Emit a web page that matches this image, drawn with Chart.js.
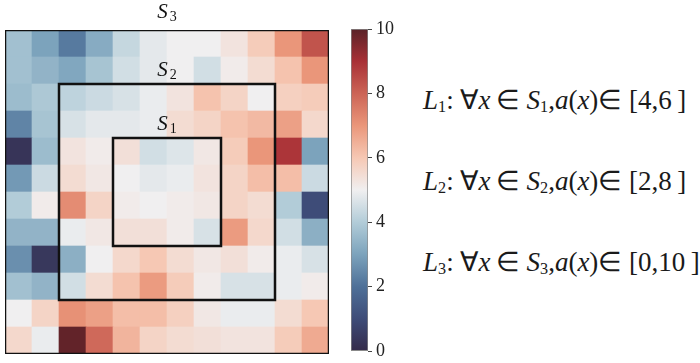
<!DOCTYPE html>
<html>
<head>
<meta charset="utf-8">
<script src="https://cdn.jsdelivr.net/npm/chart.js@4/dist/chart.umd.min.js"></script>
<style>
  html, body { margin: 0; padding: 0; background: #fff; overflow: hidden; }
  #page { position: relative; width: 700px; height: 363px; overflow: hidden; }
  #heatBox { position: absolute; left: 0; top: 0; width: 345px; height: 363px; }
  #barBox { position: absolute; left: 340px; top: 0; width: 70px; height: 366px; }
  .rule {
    position: absolute; left: 423px; white-space: nowrap;
    font-family: "Liberation Serif", serif; font-size: 27px;
    line-height: 1; color: #1a1a1a;
  }
  .rule i { font-style: italic; }
  .rule sub { font-size: 0.6em; vertical-align: baseline; position: relative; top: 0.2em; }
</style>
</head>
<body>
<div id="page">
  <div id="heatBox"><canvas id="heat"></canvas></div>
  <div id="barBox"><canvas id="cbar"></canvas></div>
  <div id="rules"></div>
</div>
<script>
// cell values, row 0 is the top row
const cellValues = [
  [3.7, 3.0, 2.2, 3.2, 4.3, 4.8, 5.0, 5.0, 5.3, 5.9, 7.0, 8.3],
  [3.7, 3.4, 3.1, 3.8, 4.5, 4.8, 5.0, 4.5, 5.1, 5.5, 6.1, 7.0],
  [3.6, 3.9, 4.2, 4.4, 4.6, 4.9, 5.3, 6.1, 5.7, 5.0, 5.8, 5.9],
  [2.4, 3.8, 4.6, 4.8, 4.8, 4.9, 5.5, 5.7, 6.1, 6.3, 6.8, 5.6],
  [0.3, 3.6, 5.3, 5.1, 5.4, 4.5, 4.7, 5.2, 5.9, 7.0, 8.9, 3.0],
  [2.8, 4.4, 5.5, 5.2, 5.0, 4.8, 4.9, 5.3, 5.7, 6.2, 6.2, 4.4],
  [4.0, 5.1, 7.2, 5.7, 5.1, 5.0, 5.1, 5.2, 5.7, 5.5, 4.0, 1.0],
  [3.4, 3.4, 4.9, 5.2, 5.4, 5.4, 5.1, 4.6, 6.9, 5.6, 4.5, 3.3],
  [2.6, 0.4, 3.3, 5.0, 5.6, 6.0, 5.5, 5.2, 5.4, 5.1, 4.9, 4.6],
  [3.7, 3.4, 4.5, 5.5, 6.1, 6.9, 5.9, 5.1, 4.6, 4.6, 4.9, 5.1],
  [5.0, 5.7, 7.1, 6.8, 6.2, 6.2, 5.8, 5.2, 4.9, 4.9, 5.5, 6.0],
  [5.6, 4.9, 9.9, 7.9, 6.4, 5.7, 5.5, 5.4, 5.3, 5.3, 5.9, 6.6]
];
const gridSize = 12;

// nested regions (cell index bounds) and the allowed value range in each
const regionNames = ['1', '2', '3'];
const regionLo = [4, 2, 0];
const regionHi = [8, 10, 12];
const regionRanges = [[4, 6], [2, 8], [0, 10]];

const colorTicks = [0, 2, 4, 6, 8, 10];
const valueMin = 0, valueMax = 10;

// diverging colormap, one stop per unit from 0 to 10
const cmapStops = [
  [52, 42, 74], [62, 76, 120], [78, 112, 152], [124, 163, 188], [178, 204, 216],
  [240, 239, 240], [246, 200, 180], [234, 150, 122], [204, 100, 86], [168, 48, 54], [90, 34, 40]
];

function cmap(v) {
  const t = Math.max(0, Math.min(1, (v - valueMin) / (valueMax - valueMin))) * (cmapStops.length - 1);
  const i = Math.min(Math.floor(t), cmapStops.length - 2);
  const f = t - i;
  const a = cmapStops[i], b = cmapStops[i + 1];
  const c = a.map((x, k) => Math.round(x + (b[k] - x) * f));
  return 'rgb(' + c.join(',') + ')';
}

const serif = '"Liberation Serif", serif';
Chart.defaults.font.family = serif;

// one floating bar per cell
const cells = [];
const cellColors = [];
cellValues.forEach((row, r) => {
  row.forEach((v, c) => {
    cells.push({ x: c + 0.5, y: [r, r + 1] });
    cellColors.push(cmap(v));
  });
});

function boxPoints(lo, hi) {
  return [{ x: lo, y: lo }, { x: hi, y: lo }, { x: hi, y: hi }, { x: lo, y: hi }, { x: lo, y: lo }];
}

const frameSets = regionLo.map((lo, i) => ({
  type: 'line',
  order: 0,
  data: boxPoints(lo, regionHi[i]),
  borderColor: '#111',
  borderWidth: 2.5,
  borderCapStyle: 'square',
  borderJoinStyle: 'miter',
  pointRadius: 0,
  fill: false,
  tension: 0
}));

// region names S_i above each frame
const regionLabels = {
  id: 'regionLabels',
  afterDatasetsDraw(chart) {
    const ctx = chart.ctx;
    const xs = chart.scales.x, ys = chart.scales.y;
    const cx = xs.getPixelForValue(gridSize / 2);
    ctx.save();
    ctx.fillStyle = '#111';
    ctx.textBaseline = 'alphabetic';
    regionNames.forEach((name, i) => {
      const base = ys.getPixelForValue(regionLo[i]) - (regionLo[i] === 0 ? 12 : 8);
      ctx.font = 'italic 21px ' + serif;
      const w1 = ctx.measureText('S').width;
      ctx.font = '14px ' + serif;
      const w2 = ctx.measureText(name).width;
      const left = cx - (w1 + 2 + w2) / 2;
      ctx.font = 'italic 21px ' + serif;
      ctx.fillText('S', left, base);
      ctx.font = '14px ' + serif;
      ctx.fillText(name, left + w1 + 2, base + 3);
    });
    ctx.restore();
  }
};

new Chart(document.getElementById('heat'), {
  type: 'bar',
  data: {
    datasets: [{
      order: 1,
      data: cells,
      backgroundColor: cellColors,
      borderWidth: 0,
      barPercentage: 1,
      categoryPercentage: 1
    }].concat(frameSets)
  },
  options: {
    responsive: true,
    maintainAspectRatio: false,
    animation: false,
    layout: { padding: { left: 5, right: 16, top: 30, bottom: 9 } },
    plugins: { legend: { display: false }, tooltip: { enabled: false } },
    scales: {
      x: { type: 'linear', min: 0, max: gridSize, offset: false, display: false, ticks: { stepSize: 1 } },
      y: { type: 'linear', min: 0, max: gridSize, reverse: true, display: false, ticks: { stepSize: 1 } }
    }
  },
  plugins: [regionLabels]
});

// colorbar
new Chart(document.getElementById('cbar'), {
  type: 'bar',
  data: {
    labels: [''],
    datasets: [{
      data: [[valueMin, valueMax]],
      backgroundColor(context) {
        const area = context.chart.chartArea;
        if (!area) return null;
        const g = context.chart.ctx.createLinearGradient(0, area.bottom, 0, area.top);
        cmapStops.forEach((s, i) => g.addColorStop(i / (cmapStops.length - 1), 'rgb(' + s.join(',') + ')'));
        return g;
      },
      borderColor: '#8a8a8a',
      borderWidth: 1,
      borderSkipped: false,
      barPercentage: 1,
      categoryPercentage: 1
    }]
  },
  options: {
    responsive: true,
    maintainAspectRatio: false,
    animation: false,
    layout: { padding: { left: 11, right: 0, top: 29, bottom: 11 } },
    plugins: { legend: { display: false }, tooltip: { enabled: false } },
    scales: {
      x: { display: false },
      y: {
        position: 'right',
        min: valueMin,
        max: valueMax,
        afterFit(scale) { scale.width = 42; },
        afterBuildTicks(scale) { scale.ticks = colorTicks.map(v => ({ value: v })); },
        border: { display: false },
        grid: { drawOnChartArea: false, drawTicks: true, tickLength: 4, color: '#444', lineWidth: 1 },
        ticks: { padding: 4, color: '#222', font: { family: serif, size: 18 } }
      }
    }
  }
});

// rule texts on the right
const rulesBox = document.getElementById('rules');
const ruleTops = [87, 168, 249];
regionNames.forEach((name, i) => {
  const d = document.createElement('div');
  d.className = 'rule';
  d.style.top = ruleTops[i] + 'px';
  const rg = regionRanges[i];
  d.innerHTML = '<i>L</i><sub>' + name + '</sub>: \u2200<i>x</i>\u2009\u2208\u2005<i>S</i><sub>' + name +
    '</sub>,<i>a</i>(<i>x</i>)\u2208\u2005[' + rg[0] + ',' + rg[1] + '\u2009]';
  rulesBox.appendChild(d);
});
</script>
</body>
</html>
